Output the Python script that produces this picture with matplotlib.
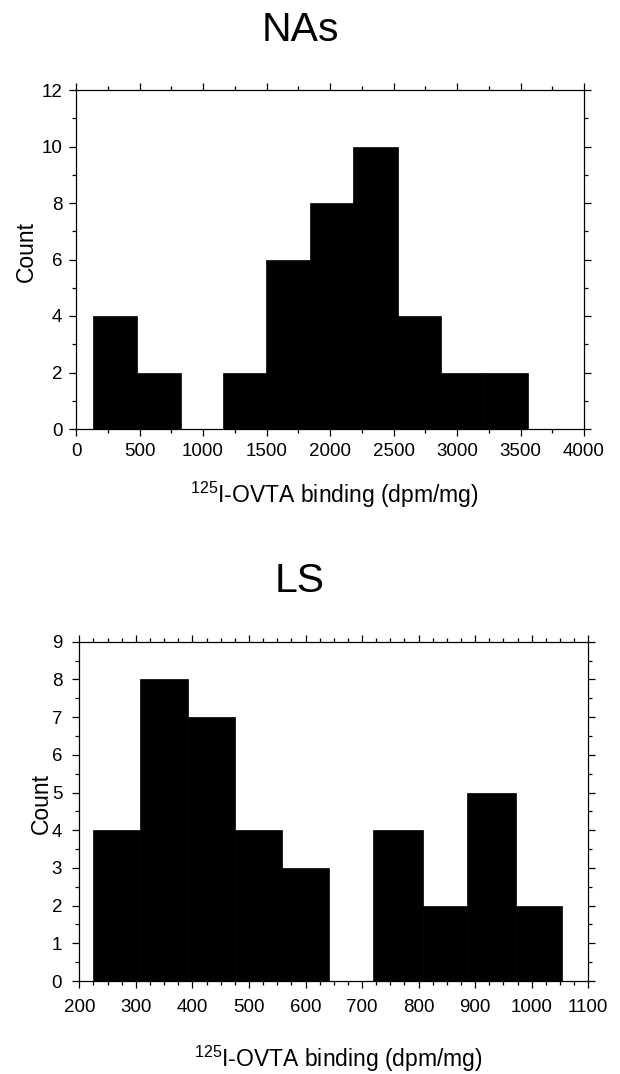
import numpy as np
import matplotlib
matplotlib.use("Agg")
import matplotlib.pyplot as plt
from matplotlib.ticker import MultipleLocator

plt.rcParams['font.family'] = ['Liberation Sans', 'DejaVu Sans']
plt.rcParams['mathtext.fontset'] = 'custom'
plt.rcParams['mathtext.rm'] = 'Liberation Sans'
plt.rcParams['mathtext.it'] = 'Liberation Sans'
plt.rcParams['mathtext.bf'] = 'Liberation Sans'

# ---- Data ----
nas_title = "NAs"
nas_bin_edges = [131, 480, 826, 1155, 1497, 1843, 2180, 2533, 2877, 3213, 3556]
nas_counts = [4, 2, 0, 2, 6, 8, 10, 4, 2, 2]
nas_xticks = [0, 500, 1000, 1500, 2000, 2500, 3000, 3500, 4000]
nas_yticks = [0, 2, 4, 6, 8, 10, 12]

ls_title = "LS"
ls_bin_edges = [224, 307, 392, 476, 558, 641, 720, 807, 886, 972, 1054]
ls_counts = [4, 8, 7, 4, 3, 0, 4, 2, 5, 2]
ls_xticks = [200, 300, 400, 500, 600, 700, 800, 900, 1000, 1100]
ls_yticks = [0, 1, 2, 3, 4, 5, 6, 7, 8, 9]

xlabel_text = r"$^{125}$I-OVTA binding (dpm/mg)"
ylabel_text = "Count"

W, H = 620, 1074
fig = plt.figure(figsize=(W / 100, H / 100), dpi=100)


def px_axes(left, top, right, bottom):
    return fig.add_axes([left / W, 1 - bottom / H, (right - left) / W, (bottom - top) / H])


def style(ax, xticks, yticks, xminor, yminor, xpad, ypad):
    ax.set_xlim(xticks[0], xticks[-1])
    ax.set_ylim(yticks[0], yticks[-1])
    ax.set_xticks(xticks)
    ax.set_yticks(yticks)
    ax.xaxis.set_minor_locator(MultipleLocator(xminor))
    ax.yaxis.set_minor_locator(MultipleLocator(yminor))
    ax.tick_params(which='both', direction='out', top=True, right=True,
                   labeltop=False, labelright=False, width=0.9, colors='black')
    ax.tick_params(which='major', length=5.3, labelsize=13.5)
    ax.tick_params(which='minor', length=3.0)
    ax.tick_params(axis='x', which='major', pad=xpad)
    ax.tick_params(axis='y', which='major', pad=ypad)
    for s in ax.spines.values():
        s.set_linewidth(0.9)
        s.set_color('black')


# ---- Top: NAs ----
ax1 = px_axes(76, 90, 584, 429)
e = np.array(nas_bin_edges)
ax1.bar(e[:-1], nas_counts, width=np.diff(e), align='edge',
        color='black', edgecolor='black', linewidth=0.5, zorder=2)
style(ax1, nas_xticks, nas_yticks, 250, 1, 5.0, 4.5)

# ---- Bottom: LS ----
ax2 = px_axes(79.3, 641.7, 588.3, 981)
e2 = np.array(ls_bin_edges)
ax2.bar(e2[:-1], ls_counts, width=np.diff(e2), align='edge',
        color='black', edgecolor='black', linewidth=0.5, zorder=2)
style(ax2, ls_xticks, ls_yticks, 25, 0.5, 8.0, 7.0)

# ---- Titles and labels ----
fig.text(300 / W, 1 - 40.7 / H, nas_title, fontsize=29.5, ha='center', va='baseline')
fig.text(300 / W, 1 - 592.3 / H, ls_title, fontsize=29.5, ha='center', va='baseline')

fig.text(334.5 / W, 1 - 503 / H, xlabel_text, fontsize=16.5, ha='center', va='baseline')
fig.text(338 / W, 1 - 1066.7 / H, xlabel_text, fontsize=16.5, ha='center', va='baseline')

fig.text(26 / W, 1 - 252 / H, ylabel_text, fontsize=16.5, rotation=90, ha='center', va='center')
fig.text(41 / W, 1 - 803 / H, ylabel_text, fontsize=16.5, rotation=90, ha='center', va='center')

fig.savefig("out.png", dpi=100)
